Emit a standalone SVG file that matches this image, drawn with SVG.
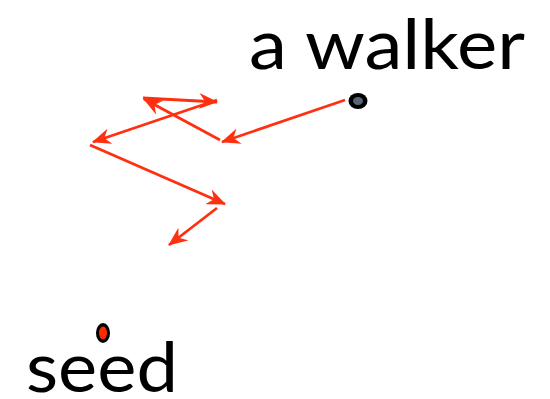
<svg xmlns="http://www.w3.org/2000/svg" width="550" height="399" viewBox="0 0 550 399">
<style>
.lbl{font-family:"Lato","Open Sans","DejaVu Sans",sans-serif;font-size:70px;fill:#000}
.step{stroke:#ff3010;stroke-width:2.8;fill:none;marker-end:url(#ah)}
</style>
<defs>
<marker id="ah" markerUnits="userSpaceOnUse" markerWidth="19" markerHeight="16" viewBox="0 0 19 16" refX="18" refY="8" orient="auto">
<path d="M0,0 L19,8 L0,16 L6,8 z" fill="#ff3010"/>
</marker>
</defs>
<rect width="550" height="399" fill="#fff"/>
<g id="connectors">
<line class="step" x1="345" y1="100" x2="222" y2="142"/>
<line class="step" x1="220" y1="140" x2="144" y2="99"/>
<line class="step" x1="143" y1="98" x2="217" y2="102"/>
<line class="step" x1="217" y1="100" x2="93" y2="142"/>
<line class="step" x1="90" y1="145" x2="225" y2="204"/>
<line class="step" x1="217" y1="208" x2="169" y2="245"/>
</g>
<g id="walker">
<ellipse cx="358" cy="101" rx="9.5" ry="8" fill="#000"/>
<ellipse cx="358" cy="101" rx="5" ry="4" fill="#5a6678"/>
<text class="lbl" x="249" y="69" textLength="276" lengthAdjust="spacingAndGlyphs">a walker</text>
</g>
<g id="seed">
<ellipse cx="103" cy="333" rx="7" ry="10" fill="#000"/>
<ellipse cx="103" cy="333" rx="4" ry="6.5" fill="#ff2a00"/>
<text class="lbl" x="26" y="392" textLength="152" lengthAdjust="spacingAndGlyphs">seed</text>
</g>
</svg>
